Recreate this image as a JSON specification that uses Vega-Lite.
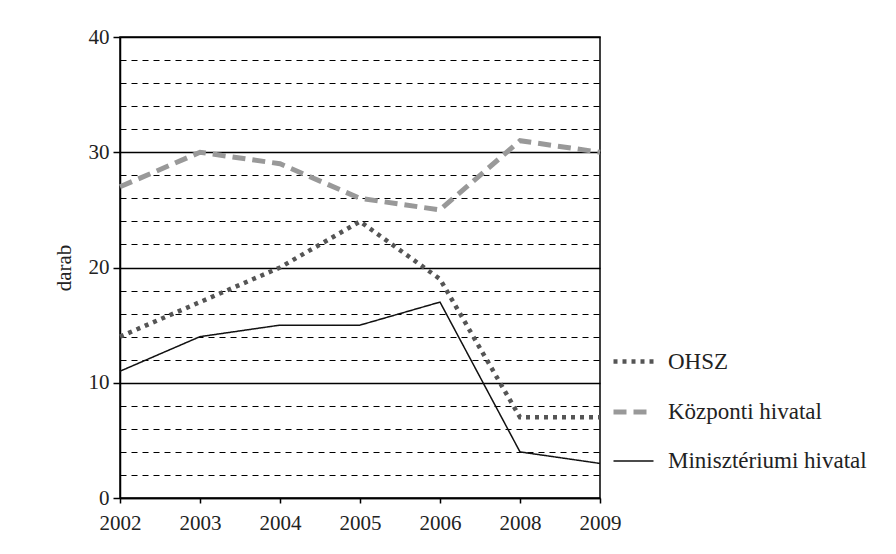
{
  "$schema": "https://vega.github.io/schema/vega-lite/v6.json",
  "width": 480,
  "height": 461,
  "autosize": {"type": "none"},
  "padding": {"left": 120, "top": 37, "right": 296, "bottom": 56},
  "background": "white",
  "config": {
    "view": {"stroke": "black", "strokeWidth": 1.5},
    "font": "Liberation Serif"
  },
  "data": {
    "values": [
      {"year": "2002", "series": "OHSZ", "value": 14},
      {"year": "2003", "series": "OHSZ", "value": 17},
      {"year": "2004", "series": "OHSZ", "value": 20},
      {"year": "2005", "series": "OHSZ", "value": 24},
      {"year": "2006", "series": "OHSZ", "value": 19},
      {"year": "2008", "series": "OHSZ", "value": 7},
      {"year": "2009", "series": "OHSZ", "value": 7},
      {"year": "2002", "series": "Központi hivatal", "value": 27},
      {"year": "2003", "series": "Központi hivatal", "value": 30},
      {"year": "2004", "series": "Központi hivatal", "value": 29},
      {"year": "2005", "series": "Központi hivatal", "value": 26},
      {"year": "2006", "series": "Központi hivatal", "value": 25},
      {"year": "2008", "series": "Központi hivatal", "value": 31},
      {"year": "2009", "series": "Központi hivatal", "value": 30},
      {"year": "2002", "series": "Minisztériumi hivatal", "value": 11},
      {"year": "2003", "series": "Minisztériumi hivatal", "value": 14},
      {"year": "2004", "series": "Minisztériumi hivatal", "value": 15},
      {"year": "2005", "series": "Minisztériumi hivatal", "value": 15},
      {"year": "2006", "series": "Minisztériumi hivatal", "value": 17},
      {"year": "2008", "series": "Minisztériumi hivatal", "value": 4},
      {"year": "2009", "series": "Minisztériumi hivatal", "value": 3}
    ]
  },
  "mark": {"type": "line", "strokeCap": "butt"},
  "encoding": {
    "x": {
      "field": "year",
      "type": "ordinal",
      "scale": {"type": "point", "padding": 0, "domain": ["2002", "2003", "2004", "2005", "2006", "2008", "2009"]},
      "axis": {
        "title": null,
        "labelAngle": 0,
        "labelFont": "Liberation Serif",
        "labelFontSize": 21,
        "labelColor": "#222",
        "labelPadding": 9,
        "tickSize": 5,
        "tickColor": "black",
        "tickWidth": 1.5,
        "domainColor": "black",
        "domainWidth": 1.5,
        "grid": false
      }
    },
    "y": {
      "field": "value",
      "type": "quantitative",
      "scale": {"domain": [0, 40], "nice": false},
      "axis": {
        "title": "darab",
        "titleFont": "Liberation Serif",
        "titleFontSize": 21,
        "titleFontWeight": "normal",
        "titleColor": "#222",
        "titlePadding": 14,
        "values": [0, 2, 4, 6, 8, 10, 12, 14, 16, 18, 20, 22, 24, 26, 28, 30, 32, 34, 36, 38, 40],
        "labelExpr": "datum.value % 10 === 0 ? datum.label : ''",
        "labelFont": "Liberation Serif",
        "labelFontSize": 21,
        "labelColor": "#222",
        "labelPadding": 4,
        "tickSize": {"condition": {"test": "datum.value % 10 === 0", "value": 7}, "value": 0},
        "tickColor": "black",
        "tickWidth": 1.5,
        "domainColor": "black",
        "domainWidth": 1.5,
        "grid": true,
        "gridColor": "black",
        "gridOpacity": 1,
        "gridWidth": {"condition": {"test": "datum.value % 10 === 0", "value": 1.3}, "value": 1},
        "gridDash": {"condition": {"test": "datum.value % 10 === 0", "value": []}, "value": [6, 5]}
      }
    },
    "color": {
      "field": "series",
      "type": "nominal",
      "scale": {"domain": ["OHSZ", "Központi hivatal", "Minisztériumi hivatal"], "range": ["#555555", "#999999", "#111111"]},
      "legend": {
        "title": null,
        "orient": "none",
        "legendX": 491,
        "legendY": 302,
        "symbolType": "stroke",
        "symbolSize": 1600,
        "labelFont": "Liberation Serif",
        "labelFontSize": 23,
        "labelColor": "#222",
        "labelOffset": 12,
        "rowPadding": 15.5,
        "labelLimit": 400
      }
    },
    "strokeDash": {
      "field": "series",
      "type": "nominal",
      "scale": {"domain": ["OHSZ", "Központi hivatal", "Minisztériumi hivatal"], "range": [[4, 5], [13, 7], [1, 0]]}
    },
    "strokeWidth": {
      "field": "series",
      "type": "nominal",
      "scale": {"type": "ordinal", "domain": ["OHSZ", "Központi hivatal", "Minisztériumi hivatal"], "range": [4.5, 5, 1.5]}
    }
  }
}
